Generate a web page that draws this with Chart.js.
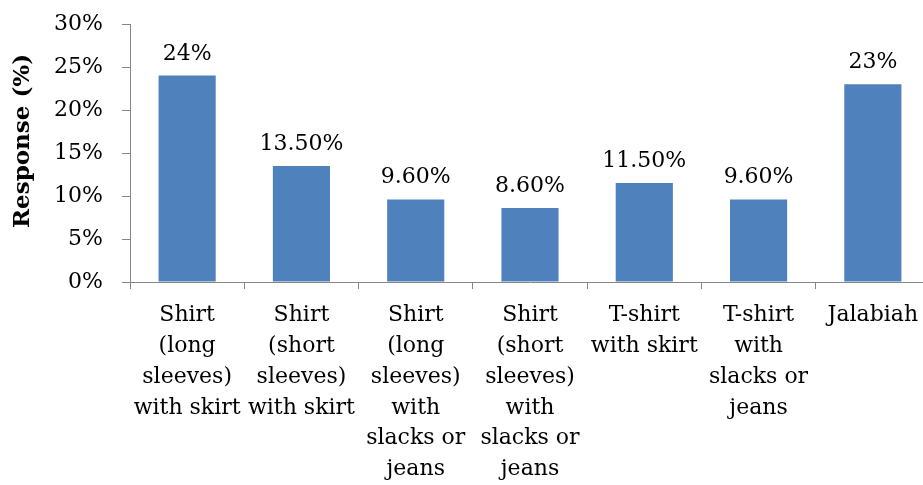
<!DOCTYPE html>
<html><head><meta charset="utf-8">
<script src="https://cdn.jsdelivr.net/npm/chart.js@4/dist/chart.umd.min.js"></script>
<style>html,body{margin:0;padding:0;overflow:hidden;background:#fff}
#wrap{width:930px;height:485px;position:relative}</style>
</head><body><div id="wrap"><canvas id="c"></canvas></div>
<script>
const categories = [
  ["Shirt","(long","sleeves)","with skirt"],
  ["Shirt","(short","sleeves)","with skirt"],
  ["Shirt","(long","sleeves)","with","slacks or","jeans"],
  ["Shirt","(short","sleeves)","with","slacks or","jeans"],
  ["T-shirt","with skirt"],
  ["T-shirt","with","slacks or","jeans"],
  ["Jalabiah"]
];
const responseValues = [24, 13.5, 9.6, 8.6, 11.5, 9.6, 23];
const valueLabels = ["24%","13.50%","9.60%","8.60%","11.50%","9.60%","23%"];
const yTickValues = [0, 5, 10, 15, 20, 25, 30];
const yTitle = "   Response (%)";

const FONT = '"DejaVu Serif", serif';
const AXIS = '#868686';

const barLabels = {
  id: 'barLabels',
  afterDatasetsDraw(chart) {
    const ctx = chart.ctx;
    const meta = chart.getDatasetMeta(0);
    ctx.save();
    ctx.font = '22px ' + FONT;
    ctx.fillStyle = '#000';
    ctx.textAlign = 'center';
    ctx.textBaseline = 'alphabetic';
    meta.data.forEach((bar, i) => {
      ctx.fillText(valueLabels[i], bar.x, bar.y - 16);
    });
    ctx.restore();
  }
};

new Chart(document.getElementById('c'), {
  type: 'bar',
  data: {
    labels: categories,
    datasets: [{
      data: responseValues,
      backgroundColor: '#4F81BD',
      borderWidth: 0,
      barPercentage: 0.5,
      categoryPercentage: 1.0
    }]
  },
  options: {
    responsive: true,
    maintainAspectRatio: false,
    animation: false,
    layout: { padding: { top: 24, right: 0, bottom: 0, left: 0 } },
    plugins: { legend: { display: false }, tooltip: { enabled: false } },
    scales: {
      x: {
        afterFit(scale) { scale.height = 203; },
        grid: { offset: true, drawOnChartArea: false, drawTicks: true, tickLength: 7, color: AXIS, lineWidth: 1 },
        border: { display: true, color: AXIS, width: 1 },
        ticks: {
          autoSkip: false, maxRotation: 0, minRotation: 0, padding: 11,
          color: '#000', font: { family: FONT, size: 22, lineHeight: 1.4 }
        }
      },
      y: {
        min: 0, max: 30,
        afterFit(scale) { scale.width = 130; scale.paddingTop = 0; scale.paddingBottom = 0; },
        afterBuildTicks(scale) { scale.ticks = yTickValues.map(v => ({ value: v })); },
        grid: { drawOnChartArea: false, drawTicks: true, tickLength: 8, color: AXIS, lineWidth: 1 },
        border: { display: true, color: AXIS, width: 1 },
        ticks: {
          padding: 19, color: '#000',
          font: { family: FONT, size: 22 },
          callback: v => v + '%'
        },
        title: {
          display: true, text: yTitle, color: '#000',
          font: { family: FONT, size: 23, weight: 'bold' },
          padding: { top: 9, bottom: 0 }
        }
      }
    }
  },
  plugins: [barLabels]
});
</script>
</body></html>
